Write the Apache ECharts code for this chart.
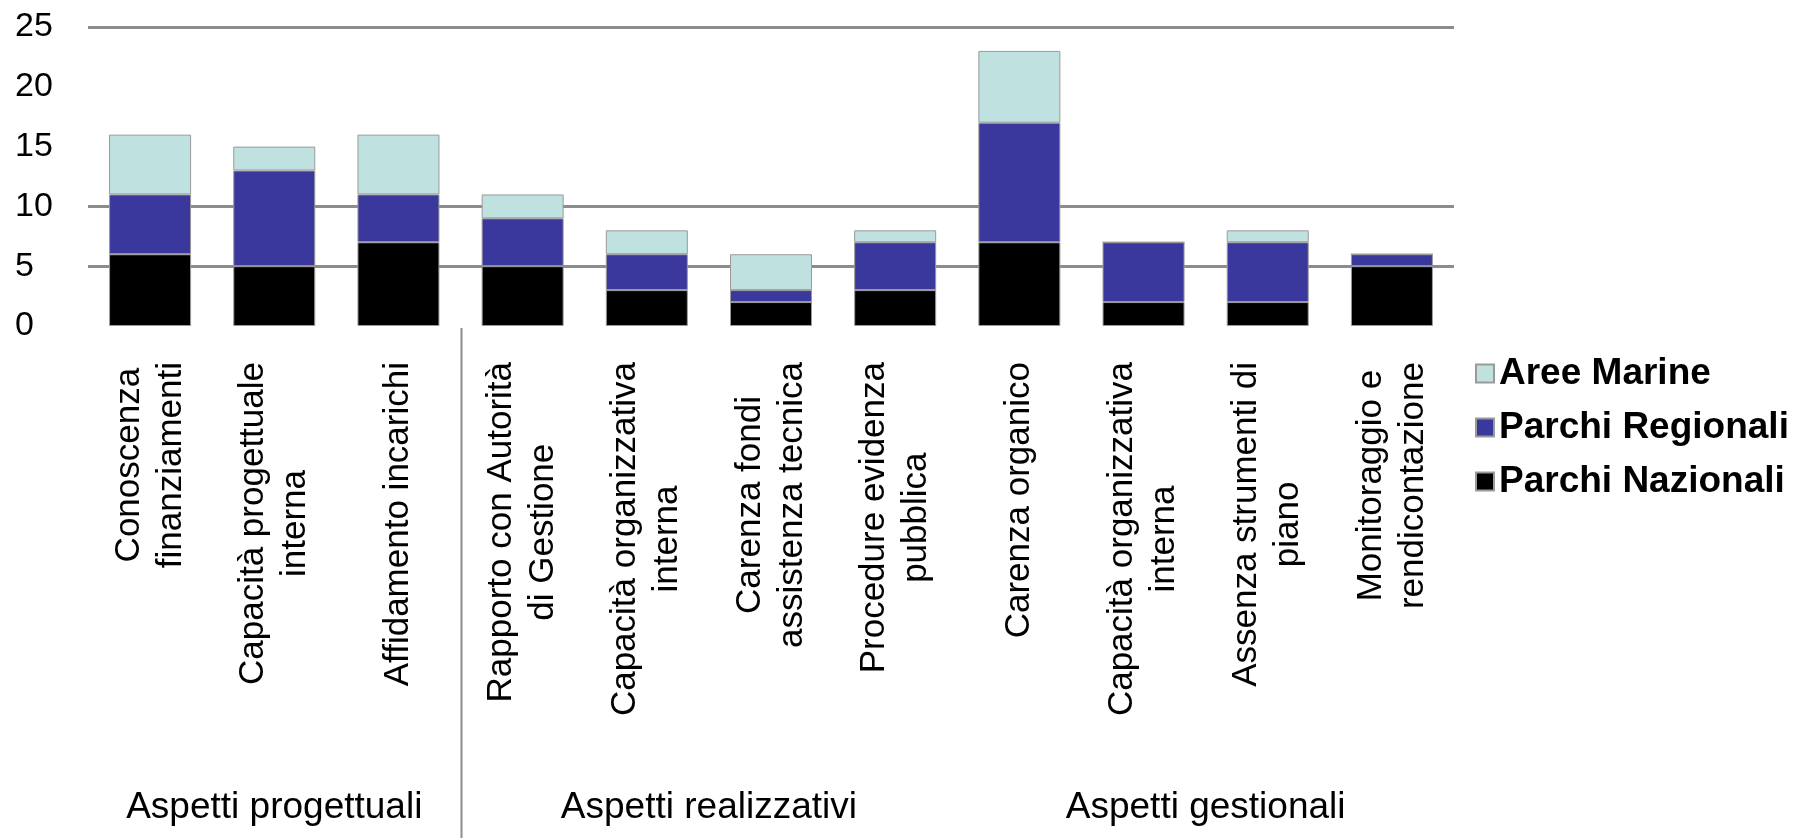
<!DOCTYPE html>
<html>
<head>
<meta charset="utf-8">
<script src="https://cdn.jsdelivr.net/npm/echarts@6/dist/echarts.min.js"></script>
<style>
  html, body { margin: 0; padding: 0; background: #fff; }
  #main { width: 1798px; height: 838px; }
</style>
</head>
<body>
<div id="main"></div>
<script>
// categorie (asse x)
const categories = [
  'Conoscenza\nfinanziamenti',
  'Capacità progettuale\ninterna',
  'Affidamento incarichi',
  'Rapporto con Autorità\ndi Gestione',
  'Capacità organizzativa\ninterna',
  'Carenza fondi\nassistenza tecnica',
  'Procedure evidenza\npubblica',
  'Carenza organico',
  'Capacità organizzativa\ninterna',
  'Assenza strumenti di\npiano',
  'Monitoraggio e\nrendicontazione'
]
// valori delle serie
const parchiNazionali = [6, 5, 7, 5, 3, 2, 3, 7, 2, 2, 5]
const parchiRegionali = [5, 8, 4, 4, 3, 1, 4, 10, 5, 5, 1]
const areeMarine = [5, 2, 5, 2, 2, 3, 1, 6, 0, 1, 0]
// gruppi di categorie
const groupNames = ['Aspetti progettuali', 'Aspetti realizzativi', 'Aspetti gestionali']
const groupSizes = [3, 4, 4]
const separators = [3] // linea verticale dopo la terza categoria
// righe orizzontali visibili
const yTicks = [0, 5, 10, 15, 20, 25]
const shownLines = [5, 10, 25]

const font = "'Liberation Sans', Arial, sans-serif"
const lineColor = '#8c8c8c'

const chart = echarts.init(document.getElementById('main'))

const barStyle = (color) => ({
  color: color,
  borderColor: '#9a9a9a',
  borderWidth: 1
})

const option = {
  animation: false,
  textStyle: { fontFamily: font },
  grid: { left: 88, right: 344, top: 27, bottom: 512 },
  legend: {
    orient: 'vertical',
    left: 1470,
    top: 350,
    itemWidth: 18,
    itemHeight: 18,
    itemGap: 17,
    icon: 'rect',
    data: ['Aree Marine', 'Parchi Regionali', 'Parchi Nazionali'],
    textStyle: {
      fontFamily: font,
      fontSize: 37,
      fontWeight: 'bold',
      color: '#000'
    }
  },
  xAxis: {
    type: 'category',
    data: categories,
    axisLine: { show: false },
    axisTick: { show: false },
    axisLabel: {
      interval: 0,
      rotate: 90,
      margin: 36,
      color: '#000',
      // righe centrate tra loro, blocco allineato all'asse
      formatter: (value) => value.split('\n').map(s => '{c|' + s + '}').join('\n'),
      rich: {
        c: {
          align: 'center',
          fontFamily: font,
          fontSize: 35,
          lineHeight: 42,
          color: '#000'
        }
      }
    }
  },
  yAxis: {
    type: 'value',
    min: yTicks[0],
    max: yTicks[yTicks.length - 1],
    interval: yTicks[1] - yTicks[0],
    axisLine: { show: false },
    axisTick: { show: false },
    axisLabel: {
      align: 'left',
      margin: 73,
      fontFamily: font,
      fontSize: 34,
      color: '#000'
    },
    splitLine: {
      lineStyle: {
        width: 3,
        color: yTicks.map(v => shownLines.includes(v) ? lineColor : 'rgba(0,0,0,0)')
      }
    }
  },
  series: [
    {
      name: 'Parchi Nazionali',
      type: 'bar',
      stack: 'tot',
      barWidth: 82,
      itemStyle: barStyle('#000000'),
      data: parchiNazionali
    },
    {
      name: 'Parchi Regionali',
      type: 'bar',
      stack: 'tot',
      barWidth: 82,
      itemStyle: barStyle('#3a379d'),
      data: parchiRegionali
    },
    {
      name: 'Aree Marine',
      type: 'bar',
      stack: 'tot',
      barWidth: 82,
      itemStyle: barStyle('#bfe2e1'),
      data: areeMarine
    }
  ]
}

chart.setOption(option)

// etichette di gruppo e separatori, posizionati con la scala dell'asse
const catX = (i) => chart.convertToPixel({ xAxisIndex: 0 }, i)
const step = catX(1) - catX(0)
const axisY = chart.convertToPixel({ yAxisIndex: 0 }, 0)
const graphic = []

separators.forEach(idx => {
  const x = Math.round(catX(idx) - step / 2) + 0.5
  graphic.push({
    type: 'line',
    silent: true,
    shape: { x1: x, y1: axisY + 2, x2: x, y2: 838 },
    style: { stroke: lineColor, lineWidth: 2 }
  })
})

let start = 0
groupNames.forEach((name, i) => {
  const end = start + groupSizes[i] - 1
  const cx = (catX(start) + catX(end)) / 2
  graphic.push({
    type: 'text',
    silent: true,
    x: cx,
    y: 808,
    style: {
      text: name,
      fontFamily: font,
      fontSize: 37,
      fill: '#000',
      align: 'center',
      verticalAlign: 'middle'
    }
  })
  start = end + 1
})

chart.setOption({ graphic: graphic })
</script>
</body>
</html>
